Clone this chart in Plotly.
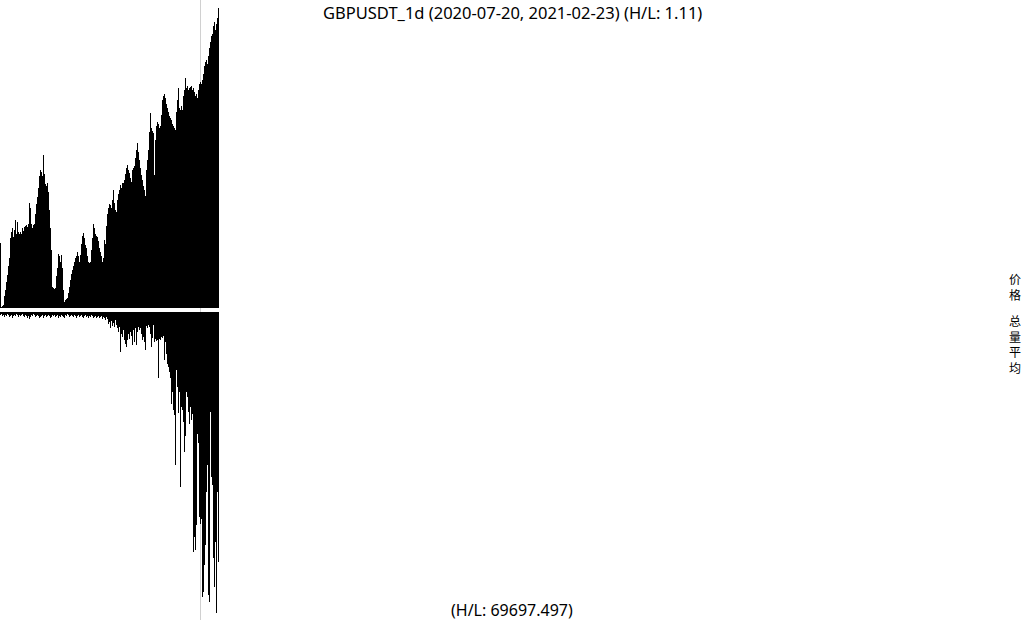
import plotly.graph_objects as go

# ---- data ----
title_text = "GBPUSDT_1d (2020-07-20, 2021-02-23) (H/L: 1.11)"
volume_note = "(H/L: 69697.497)"
legend_price = "价格"
legend_volume = "总量平均"

price = [
    1.2900, 1.2605, 1.2609, 1.2614, 1.2655, 1.2683, 1.2720, 1.2752, 1.2794, 1.2831,
    1.2923, 1.2951, 1.2970, 1.2928, 1.2960, 1.3007, 1.2942, 1.2997, 1.2951, 1.2942,
    1.2951, 1.2942, 1.2970, 1.2956, 1.2974, 1.2979, 1.2983, 1.2974, 1.2988, 1.3085,
    1.3062, 1.2988, 1.2970, 1.2983, 1.2988, 1.3034, 1.3080, 1.3113, 1.3154, 1.3210,
    1.3238, 1.3228, 1.3210, 1.3307, 1.3219, 1.3173, 1.3164, 1.3178, 1.3136, 1.3053,
    1.2970, 1.2868, 1.2697, 1.2692, 1.2688, 1.2692, 1.2748, 1.2785, 1.2849, 1.2840,
    1.2813, 1.2845, 1.2785, 1.2683, 1.2628, 1.2637, 1.2642, 1.2646, 1.2669, 1.2697,
    1.2729, 1.2757, 1.2776, 1.2794, 1.2813, 1.2831, 1.2840, 1.2859, 1.2840, 1.2813,
    1.2845, 1.2896, 1.2933, 1.2947, 1.2923, 1.2891, 1.2877, 1.2840, 1.2813, 1.2808,
    1.2813, 1.2868, 1.2923, 1.2988, 1.2970, 1.2942, 1.2933, 1.2928, 1.2910, 1.2877,
    1.2859, 1.2840, 1.2813, 1.2831, 1.2914, 1.2896, 1.2979, 1.3034, 1.3062, 1.3080,
    1.3076, 1.3062, 1.3099, 1.3145, 1.3085, 1.3053, 1.3044, 1.3099, 1.3127, 1.3145,
    1.3168, 1.3154, 1.3178, 1.3178, 1.3191, 1.3219, 1.3247, 1.3261, 1.3238, 1.3224,
    1.3201, 1.3182, 1.3238, 1.3247, 1.3256, 1.3293, 1.3330, 1.3362, 1.3321, 1.3284,
    1.3247, 1.3214, 1.3191, 1.3164, 1.3145, 1.3117, 1.3238, 1.3284, 1.3330, 1.3413,
    1.3501, 1.3432, 1.3418, 1.3409, 1.3214, 1.3376, 1.3441, 1.3459, 1.3450, 1.3432,
    1.3441, 1.3492, 1.3561, 1.3579, 1.3589, 1.3570, 1.3542, 1.3524, 1.3506, 1.3487,
    1.3478, 1.3469, 1.3450, 1.3441, 1.3432, 1.3422, 1.3506, 1.3561, 1.3616, 1.3524,
    1.3515, 1.3533, 1.3515, 1.3579, 1.3607, 1.3663, 1.3616, 1.3626, 1.3607, 1.3616,
    1.3621, 1.3626, 1.3607, 1.3616, 1.3598, 1.3579, 1.3589, 1.3570, 1.3607, 1.3635,
    1.3644, 1.3635, 1.3653, 1.3681, 1.3718, 1.3737, 1.3746, 1.3727, 1.3764, 1.3801,
    1.3829, 1.3857, 1.3866, 1.3903, 1.3921, 1.3884, 1.3912, 1.3940, 1.3986,
]

volume = [
    3, 2, 4, 3, 5, 3, 4, 2, 3, 5,
    4, 3, 6, 4, 3, 4, 2, 3, 5, 3,
    4, 3, 2, 4, 5, 3, 4, 6, 4, 7,
    5, 3, 4, 2, 3, 5, 4, 3, 4, 6,
    5, 4, 3, 6, 4, 3, 5, 4, 3, 4,
    6, 5, 3, 4, 3, 5, 4, 3, 6, 4,
    5, 3, 4, 5, 6, 3, 4, 2, 3, 5,
    4, 3, 4, 5, 3, 4, 6, 4, 3, 5,
    4, 3, 5, 6, 4, 3, 5, 4, 6, 4,
    5, 3, 4, 6, 5, 4, 6, 5, 4, 6,
    5, 4, 7, 5, 6, 8, 5, 7, 12, 10,
    16, 9, 14, 11, 15, 8, 13, 16, 20, 15,
    40, 22, 25, 18, 28, 32, 35, 28, 22, 27,
    20, 24, 33, 18, 30, 16, 33, 20, 15, 18,
    16, 22, 28, 25, 30, 38, 14, 16, 13, 15,
    22, 35, 26, 13, 30, 27, 29, 28, 66, 27,
    28, 25, 26, 24, 48, 30, 42, 52, 55, 60,
    66, 92, 80, 98, 103, 153, 58, 75, 101, 80,
    175, 95, 98, 110, 140, 124, 80, 85, 100, 112,
    95, 108, 102, 240, 225, 238, 213, 122, 131, 205,
    212, 207, 285, 280, 253, 233, 180, 153, 283, 290,
    100, 165, 173, 246, 275, 230, 301, 180, 250,
]
volume = [v * 1000 for v in volume]

marker_index = 200  # position of the thin grey vertical marker

# ---- figure ----
x = list(range(len(price)))
W, H = 1024, 620

fig = go.Figure()
fig.add_trace(go.Bar(x=x, y=price, width=1, marker=dict(color="black", line=dict(width=0)),
                     xaxis="x", yaxis="y", name=legend_price, showlegend=False))
fig.add_trace(go.Bar(x=x, y=volume, width=1, marker=dict(color="black", line=dict(width=0)),
                     xaxis="x", yaxis="y2", name=legend_volume, showlegend=False))

pmin, pmax = min(price), max(price)
fig.update_layout(
    width=W, height=H,
    margin=dict(l=0, r=0, t=0, b=0),
    paper_bgcolor="white", plot_bgcolor="white",
    bargap=0,
    xaxis=dict(range=[-0.5, W - 0.5], visible=False, fixedrange=True),
    yaxis=dict(domain=[1 - 308 / H, 1 - 8 / H], range=[pmin - 0.0005, pmax],
               visible=False),
    yaxis2=dict(domain=[1 - 613 / H, 1 - 312 / H], range=[max(volume), 0],
                visible=False),
    shapes=[dict(type="line", xref="x", yref="paper", x0=marker_index, x1=marker_index,
                 y0=0, y1=1, line=dict(color="#d0d0d0", width=1), layer="below")],
    showlegend=False,
)

font_main = "Noto Sans, Open Sans, sans-serif"
fig.add_annotation(text=title_text, xref="paper", yref="paper", x=0.5, y=1 - 12 / H,
                   showarrow=False, font=dict(family=font_main, size=16.5, color="black"),
                   xanchor="center", yanchor="middle")
fig.add_annotation(text=volume_note, xref="paper", yref="paper", x=0.5, y=1 - 610 / H,
                   showarrow=False, font=dict(family=font_main, size=16, color="black"),
                   xanchor="center", yanchor="middle")
cjk = "Noto Sans CJK SC, sans-serif"
fig.add_annotation(text="<br>".join(legend_price), xref="paper", yref="paper",
                   x=1015 / W, y=1 - 286 / H, showarrow=False,
                   font=dict(family=cjk, size=12, color="black"),
                   xanchor="center", yanchor="middle")
fig.add_annotation(text="<br>".join(legend_volume), xref="paper", yref="paper",
                   x=1015 / W, y=1 - 344 / H, showarrow=False,
                   font=dict(family=cjk, size=12, color="black"),
                   xanchor="center", yanchor="middle")

fig.write_html("out.html", config={"displayModeBar": False})
